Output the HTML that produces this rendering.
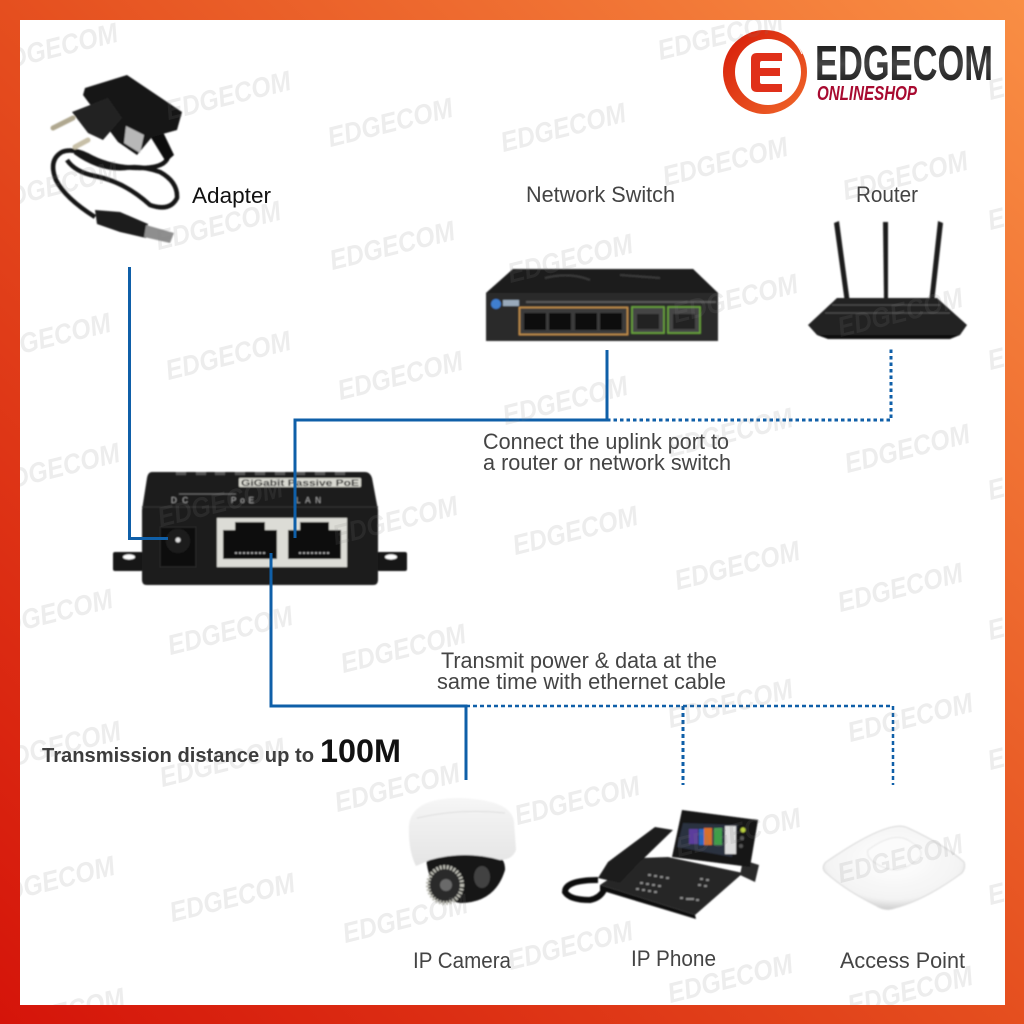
<!DOCTYPE html>
<html><head><meta charset="utf-8"><style>
html,body{margin:0;padding:0;background:#fff}
svg{display:block}
.wm{font-family:"Liberation Sans",sans-serif;font-weight:bold;font-style:italic;font-size:28px;fill:#808080;fill-opacity:.14}
.t{font-family:"Liberation Sans",sans-serif;font-size:22px;fill:#444}
</style></head><body>
<svg width="1024" height="1024" viewBox="0 0 1024 1024" xmlns="http://www.w3.org/2000/svg">
<defs>
<linearGradient id="bg" x1="0" y1="1" x2="1" y2="0"><stop offset="0" stop-color="#d5140a"/><stop offset=".5" stop-color="#e54f1f"/><stop offset="1" stop-color="#f98e44"/></linearGradient>
<linearGradient id="ring" x1="0" y1="0" x2="1" y2="1"><stop offset="0" stop-color="#d61a08"/><stop offset="1" stop-color="#f0682a"/></linearGradient>
<linearGradient id="ed" x1="0" y1="0" x2="0" y2="1"><stop offset="0" stop-color="#111"/><stop offset=".5" stop-color="#444"/><stop offset="1" stop-color="#111"/></linearGradient>
<linearGradient id="dome" x1="0" y1="0" x2="0" y2="1"><stop offset="0" stop-color="#f6f6f6"/><stop offset="1" stop-color="#e4e4e4"/></linearGradient>
<radialGradient id="ap" cx=".5" cy=".4" r=".6"><stop offset="0" stop-color="#fff"/><stop offset=".8" stop-color="#f3f3f3"/><stop offset="1" stop-color="#cfcfcf"/></radialGradient>
<clipPath id="page"><rect x="20" y="20" width="985" height="985"/></clipPath>
<filter id="b"><feGaussianBlur stdDeviation=".7"/></filter>
<g id="w"><text class="wm" textLength="128" lengthAdjust="spacingAndGlyphs" x="-64" y="10" transform="rotate(-14)">EDGECOM</text></g>
</defs>
<rect width="1024" height="1024" fill="url(#bg)"/>
<rect x="20" y="20" width="985" height="985" fill="#fff"/>

<!-- Logo -->
<circle cx="765" cy="72" r="42" fill="url(#ring)"/>
<circle cx="768" cy="72" r="33" fill="#fff"/>
<path d="M757 53h25v8h-20q-2 0-2 2v5h20v8h-20v6q0 2 2 2h20v8h-25q-6 0-6-6v-27q0-6 6-6z" fill="#e0301a"/>
<path d="M732 42a42 42 0 0 1 70 12" fill="none" stroke="#fff" stroke-width="1"/>
<text x="815" y="80" font-family="Liberation Sans,sans-serif" font-weight="bold" font-size="49" textLength="178" lengthAdjust="spacingAndGlyphs" fill="url(#ed)">EDGECOM</text>
<text x="817" y="100" font-family="Liberation Sans,sans-serif" font-weight="bold" font-style="italic" font-size="20" textLength="100" lengthAdjust="spacingAndGlyphs" fill="#a80a30">ONLINESHOP</text>

<!-- Adapter -->
<g filter="url(#b)">
<path d="M168 157Q165 168 140 168Q110 168 87 155Q72 148 62 152Q48 160 56 180Q65 198 95 217" fill="none" stroke="#161616" stroke-width="4.500"/>
<path d="M67 160Q75 172 95 176Q125 182 150 205Q170 212 177 198Q178 182 160 172Q140 165 125 168Q100 170 75 152" fill="none" stroke="#161616" stroke-width="4.500"/>
<path d="M150 136L163 132L174 155L166 162Z" fill="#111"/>
<path d="M85 88L127 75L182 112L177 130L152 137L137 155L118 142L83 95Z" fill="#171717"/>
<path d="M72 112L108 98L122 118L103 140L88 133Z" fill="#242424"/>
<path d="M73 118L53 128" stroke="#b0a890" stroke-width="5" stroke-linecap="round"/>
<path d="M88 140L75 147" stroke="#c8c0a8" stroke-width="5" stroke-linecap="round"/>
<path d="M126 126L144 135L140 153L124 143Z" fill="#b8b8b8"/>
<path d="M95 210L120 212L148 224L146 238L120 232L97 224Z" fill="#1c1c1c"/>
<path d="M146 225L174 233L170 243L144 237Z" fill="#8e8e8e"/>
</g>
<text x="192" y="203" font-family="Liberation Sans,sans-serif" font-size="22" textLength="79" lengthAdjust="spacingAndGlyphs" fill="#111">Adapter</text>

<!-- Switch -->
<g filter="url(#b)">
<path d="M513 269H693L718 293V341H486V293Z" fill="#2b2b2b"/>
<path d="M513 269H693L718 293H486Z" fill="#1d1d1d"/>
<path d="M545 278Q570 272 590 280M620 275L660 278" stroke="#3a3a3a" stroke-width="2" fill="none"/>
<circle cx="496" cy="304" r="5" fill="#3f7fd0"/>
<rect x="503" y="300" width="16" height="6" fill="#9ab"/>
<rect x="519.500" y="307.500" width="108" height="27" fill="#3a3a3a" stroke="#c8924a" stroke-width="1.600"/>
<rect x="632" y="307" width="32" height="26" fill="#444" stroke="#6ba83a" stroke-width="1.600"/>
<rect x="668" y="307" width="32" height="26" fill="#444" stroke="#6ba83a" stroke-width="1.600"/>
<g fill="#0d0d0d"><rect x="524" y="313" width="22" height="17"/><rect x="549" y="313" width="22" height="17"/><rect x="575" y="313" width="22" height="17"/><rect x="600" y="313" width="22" height="17"/><rect x="637" y="314" width="22" height="15" fill="#222"/><rect x="673" y="314" width="22" height="15" fill="#222"/></g>
<rect x="526" y="301" width="190" height="2" fill="#888" opacity=".5"/>
</g>
<text x="526" y="202" class="t" textLength="149" lengthAdjust="spacingAndGlyphs">Network Switch</text>

<!-- Router -->
<g filter="url(#b)">
<path d="M834 223L839 221L850 303L845 303Z" fill="#1c1c1c"/>
<path d="M883 222H888L888 300H884Z" fill="#1c1c1c"/>
<path d="M938 221L943 223L934 303L929 303Z" fill="#1c1c1c"/>
<path d="M837 298H937L967 325L960 335H817L808 325Z" fill="#242424"/>
<path d="M817 335H960L950 339H828Z" fill="#0e0e0e"/>
<path d="M832 305H940M825 313H950" stroke="#555" stroke-width="1"/>
</g>
<text x="856" y="202" class="t" textLength="62" lengthAdjust="spacingAndGlyphs">Router</text>

<!-- PoE Injector -->
<g filter="url(#b)">
<rect x="113" y="552" width="30" height="19" rx="2" fill="#151515"/>
<rect x="377" y="552" width="30" height="19" rx="2" fill="#151515"/>
<ellipse cx="129" cy="557" rx="6" ry="2.500" fill="#fff"/><ellipse cx="391" cy="557" rx="6" ry="2.500" fill="#fff"/>
<path d="M152 472H365Q370 472 372 478L378 510V580Q378 585 373 585H147Q142 585 142 580V510L147 478Q148 472 152 472Z" fill="#1a1a1a"/>
<path d="M142 507H378" stroke="#333" stroke-width="1.500"/>
<g fill="#555"><rect x="176" y="472" width="10" height="3"/><rect x="196" y="472" width="10" height="3"/><rect x="215" y="472" width="10" height="3"/><rect x="235" y="472" width="10" height="3"/><rect x="255" y="472" width="10" height="3"/><rect x="275" y="472" width="10" height="3"/><rect x="295" y="472" width="10" height="3"/><rect x="315" y="472" width="10" height="3"/><rect x="335" y="472" width="10" height="3"/></g>
<rect x="239" y="478" width="122" height="9" rx="1" fill="#d8d8d0"/>
<text x="241" y="486" font-family="Liberation Sans,sans-serif" font-weight="bold" font-size="9" textLength="118" lengthAdjust="spacingAndGlyphs" fill="#222">GiGabit Passive PoE</text>
<text x="171" y="503" font-family="Liberation Sans,sans-serif" font-size="8" textLength="17" fill="#aaa">DC</text>
<text x="231" y="503" font-family="Liberation Sans,sans-serif" font-size="8" textLength="23" fill="#aaa">PoE</text>
<text x="296" y="503" font-family="Liberation Sans,sans-serif" font-size="8" textLength="25" fill="#aaa">LAN</text>
<path d="M179 494H236" stroke="#888" stroke-width=".8"/>
<rect x="160" y="527" width="36" height="40" fill="#0c0c0c" stroke="#2a2a2a"/>
<circle cx="178" cy="541" r="12" fill="#1f1f1f"/><circle cx="178" cy="540" r="2.500" fill="#ddd"/>
<rect x="217" y="518" width="130" height="49" fill="#dcdcd6"/>
<path d="M223 530H235V522H265V530H277V559H223Z" fill="#111"/>
<path d="M288 530H300V522H329V530H341V559H288Z" fill="#111"/>
<path d="M235 553H265M299 553H330" stroke="#bbb" stroke-width="1.500" stroke-dasharray="2 2"/>
</g>

<!-- Camera -->
<g filter="url(#b)">
<path d="M426 858Q427 845 465 845Q506 848 505 870Q495 903 460 903Q430 898 426 858Z" fill="#171717"/>
<ellipse cx="445" cy="885" rx="17" ry="18" fill="#2a2a2a" stroke="#b9b9b0" stroke-width="4" stroke-dasharray="2 1.500"/>
<circle cx="446" cy="885" r="6" fill="#6a6a6a"/>
<ellipse cx="482" cy="877" rx="8" ry="11" fill="#555" opacity=".7"/>
<path d="M409 825Q412 798 460 798Q512 800 514 822L516 850Q512 860 500 860Q465 850 430 860L416 866Q408 850 409 825Z" fill="url(#dome)"/>
<path d="M417 818Q460 808 505 813" stroke="#ddd" fill="none"/>
</g>

<!-- Phone -->
<g filter="url(#b)">
<path d="M668 857L743 873L695 915L600 885L640 858Z" fill="#262626"/>
<path d="M600 885L695 915L696 919L600 890Z" fill="#0d0d0d"/>
<path d="M743 860L759 865L755 882L740 875Z" fill="#2a2a2a"/>
<path d="M682 810L758 820L750 867L672 857Z" fill="#161616"/>
<path d="M683 823L738 825L732 857L677 847Z" fill="#2a3340"/>
<path d="M689 829h9v15h-9z" fill="#5b3c9c"/><path d="M699 829h8v16h-8z" fill="#2b66c0"/>
<path d="M704 828h8v17h-8z" fill="#d8702a"/><path d="M714 828h8v17h-8z" fill="#3f9e4a"/>
<path d="M725 826h11v28h-11z" fill="#ddd"/>
<circle cx="743" cy="830" r="2.500" fill="#bcd23c"/><circle cx="742" cy="838" r="2" fill="#555"/><circle cx="741" cy="846" r="2" fill="#555"/>
<path d="M655 827L673 830L637 865L620 883L598 878L608 862Z" fill="#1e1e1e"/>
<path d="M598 880Q565 880 565 892Q570 900 590 900Q600 898 604 890" fill="none" stroke="#111" stroke-width="6"/>
<g fill="#8a8a8a"><rect x="648" y="874" width="3" height="2"/><rect x="654" y="875" width="3" height="2"/><rect x="660" y="876" width="3" height="2"/><rect x="666" y="877" width="3" height="2"/><rect x="640" y="882" width="3" height="2"/><rect x="646" y="883" width="3" height="2"/><rect x="652" y="884" width="3" height="2"/><rect x="658" y="885" width="3" height="2"/><rect x="636" y="888" width="3" height="2"/><rect x="642" y="889" width="3" height="2"/><rect x="648" y="890" width="3" height="2"/><rect x="654" y="891" width="3" height="2"/><rect x="700" y="878" width="3" height="2"/><rect x="706" y="879" width="3" height="2"/><rect x="698" y="884" width="3" height="2"/><rect x="704" y="885" width="3" height="2"/><rect x="680" y="897" width="3" height="2"/><rect x="686" y="898" width="8" height="2"/><rect x="696" y="899" width="3" height="2"/></g>
</g>

<!-- Access Point -->
<g filter="url(#b)">
<path d="M826 862Q890 818 908 828Q945 845 964 862Q966 868 962 873Q925 900 895 908Q885 912 875 905Q845 890 825 872Q821 867 826 862Z" fill="url(#ap)" stroke="#d8d8d8"/>
<path d="M868 850Q892 832 908 840Q925 850 920 857Q902 875 885 868Q865 860 868 850Z" fill="#fbfbfb" stroke="#e6e6e6"/>
</g>

<!-- Connectors -->
<g fill="none" stroke="#0f5fa8" stroke-width="3">
<path d="M129.500 267V538.500H168"/>
<path d="M295 538V420H607V350"/>
<path d="M271 553V706H466V780"/>
<path d="M607 420H891V348" stroke-dasharray="3.500 3"/>
<path d="M466 706H893V785" stroke-width="2.500" stroke-dasharray="4 3"/>
<path d="M683 706V785" stroke-dasharray="4 3"/>
</g>

<!-- Labels -->
<text x="483" y="449" class="t" textLength="246" lengthAdjust="spacingAndGlyphs">Connect the uplink port to</text>
<text x="483" y="470" class="t" textLength="248" lengthAdjust="spacingAndGlyphs">a router or network switch</text>
<text x="441" y="668" class="t" textLength="276" lengthAdjust="spacingAndGlyphs">Transmit power &amp; data at the</text>
<text x="437" y="689" class="t" textLength="289" lengthAdjust="spacingAndGlyphs">same time with ethernet cable</text>
<text x="42" y="762" font-family="Liberation Sans,sans-serif" font-weight="bold" font-size="20" textLength="272" lengthAdjust="spacingAndGlyphs" fill="#3c3c3c">Transmission distance up to</text>
<text x="320" y="762" font-family="Liberation Sans,sans-serif" font-weight="bold" font-size="32" textLength="81" lengthAdjust="spacingAndGlyphs" fill="#111">100M</text>
<text x="413" y="968" class="t" textLength="98" lengthAdjust="spacingAndGlyphs">IP Camera</text>
<text x="631" y="966" class="t" textLength="85" lengthAdjust="spacingAndGlyphs">IP Phone</text>
<text x="840" y="968" class="t" textLength="125" lengthAdjust="spacingAndGlyphs">Access Point</text>

<!-- Watermarks overlay -->
<g clip-path="url(#page)">
<use href="#w" x="55" y="47"/><use href="#w" x="228" y="95"/><use href="#w" x="390" y="122"/><use href="#w" x="563" y="127"/><use href="#w" x="720" y="35"/><use href="#w" x="725" y="161"/><use href="#w" x="905" y="175"/>
<use href="#w" x="55" y="185"/><use href="#w" x="218" y="225"/><use href="#w" x="392" y="245"/><use href="#w" x="570" y="258"/><use href="#w" x="735" y="298"/><use href="#w" x="900" y="312"/>
<use href="#w" x="48" y="337"/><use href="#w" x="228" y="355"/><use href="#w" x="400" y="375"/><use href="#w" x="565" y="400"/><use href="#w" x="730" y="432"/><use href="#w" x="907" y="448"/>
<use href="#w" x="57" y="467"/><use href="#w" x="220" y="502"/><use href="#w" x="395" y="520"/><use href="#w" x="575" y="530"/><use href="#w" x="737" y="565"/><use href="#w" x="900" y="587"/>
<use href="#w" x="50" y="613"/><use href="#w" x="230" y="630"/><use href="#w" x="403" y="648"/><use href="#w" x="730" y="703"/><use href="#w" x="910" y="717"/>
<use href="#w" x="58" y="745"/><use href="#w" x="222" y="762"/><use href="#w" x="397" y="787"/><use href="#w" x="577" y="800"/><use href="#w" x="738" y="832"/><use href="#w" x="900" y="858"/>
<use href="#w" x="52" y="880"/><use href="#w" x="232" y="897"/><use href="#w" x="405" y="918"/><use href="#w" x="570" y="945"/><use href="#w" x="730" y="978"/><use href="#w" x="910" y="990"/>
<use href="#w" x="62" y="1012"/><use href="#w" x="1050" y="75"/><use href="#w" x="1050" y="205"/><use href="#w" x="1050" y="345"/><use href="#w" x="1050" y="475"/><use href="#w" x="1050" y="615"/><use href="#w" x="1050" y="745"/><use href="#w" x="1050" y="880"/>
</g>
</svg>
</body></html>
